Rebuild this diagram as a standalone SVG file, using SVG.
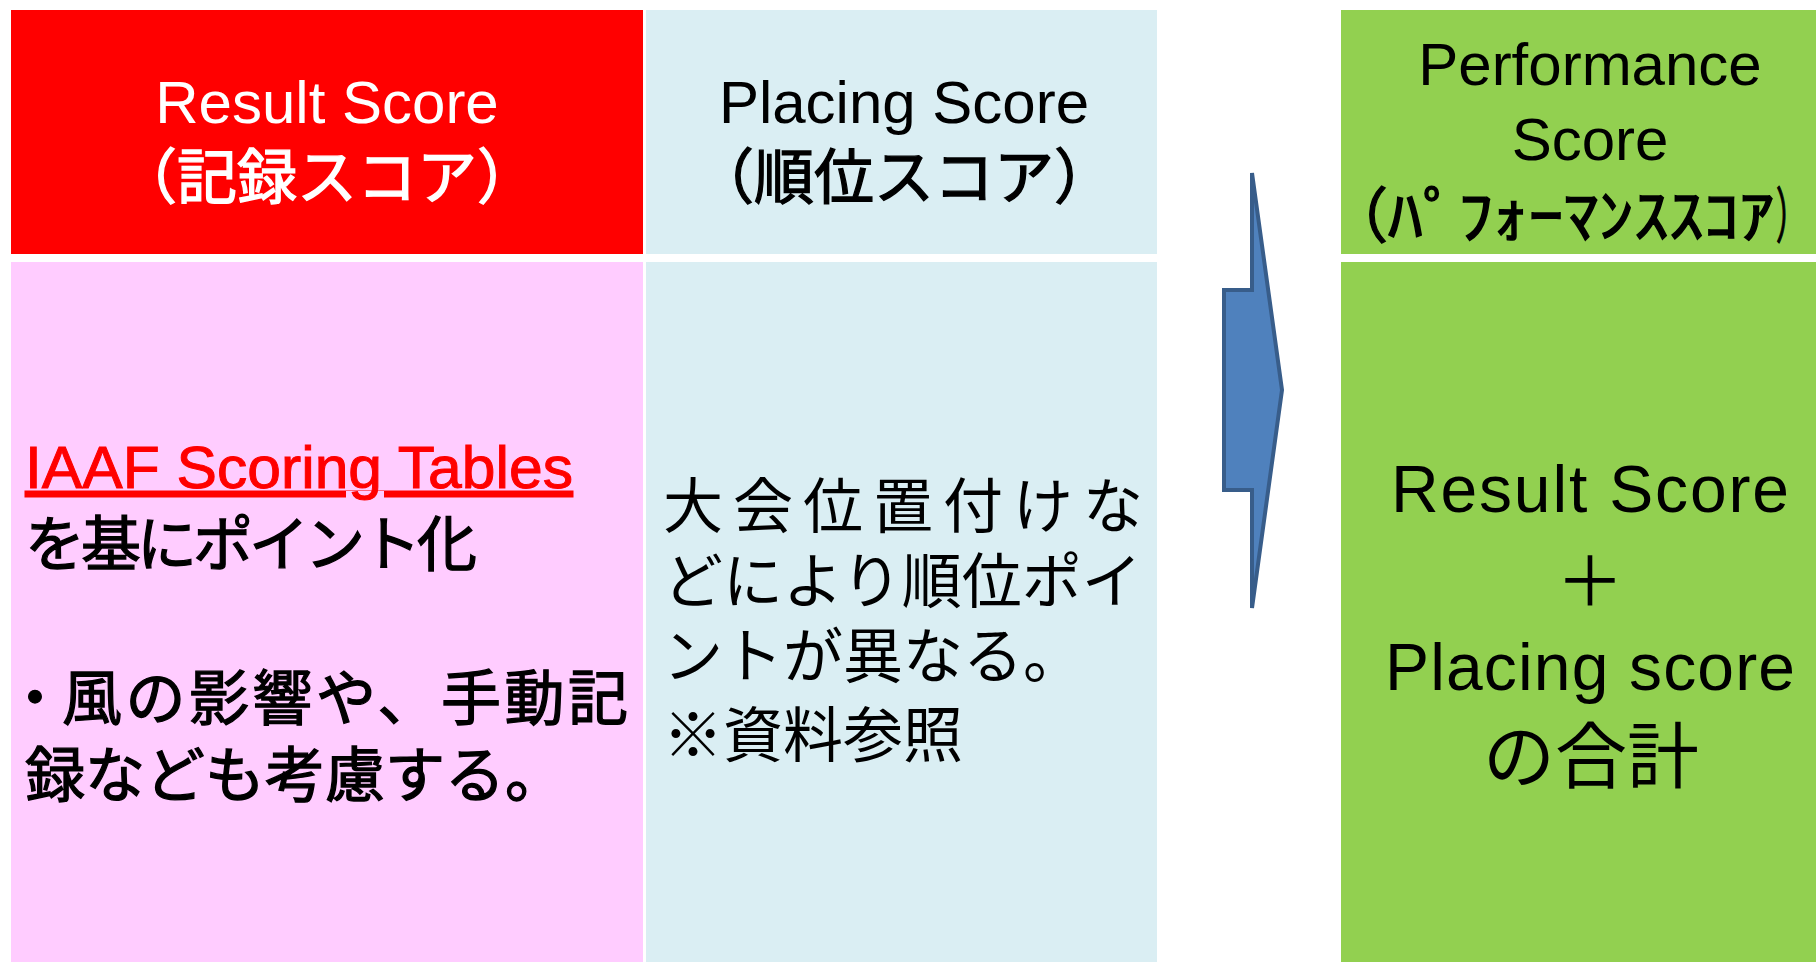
<svg xmlns="http://www.w3.org/2000/svg" width="1816" height="962" viewBox="0 0 1816 962">
<style>
text{font-family:"Liberation Sans","Noto Sans CJK JP",sans-serif;font-size:60px;fill:#000}
.w{fill:#fff}
.mid{text-anchor:middle}
.red{fill:#ff0000}
.hv{stroke:#000;stroke-width:1.3}
.hvw{stroke:#fff;stroke-width:1.3}
.hvr{stroke:#ff0000;stroke-width:1}
.arrow{fill:#4f81bd;stroke:#385d8a;stroke-width:4;stroke-linejoin:miter}
</style>
<rect width="1816" height="962" fill="#fff"/>
<g id="result-header">
<rect x="11" y="10" width="632" height="244" fill="#ff0000"/>
<text class="w mid" x="327" y="123">Result Score</text>
<text class="w mid hvw" x="327" y="199">（記録スコア）</text>
</g>
<g id="placing-header">
<rect x="646" y="10" width="511" height="244" fill="#daeef3"/>
<text class="mid" x="904" y="123">Placing Score</text>
<text class="mid hv" x="904" y="199">（順位スコア）</text>
</g>
<g id="result-body">
<rect x="11" y="262" width="632" height="700" fill="#ffccff"/>
<text class="red hvr" x="25" y="488" textLength="548" lengthAdjust="spacingAndGlyphs" text-decoration="underline">IAAF Scoring Tables</text>
<text class="hv" x="25" y="566" textLength="452">を基にポイント化</text>
<text class="hv" y="720"><tspan x="5">・</tspan><tspan x="62" textLength="566">風の影響や、手動記</tspan></text>
<text class="hv" x="25" y="797">録なども考慮する。</text>
</g>
<g id="placing-body">
<rect x="646" y="262" width="511" height="700" fill="#daeef3"/>
<text x="663" y="528" textLength="480">大会位置付けな</text>
<text x="663" y="603">どにより順位ポイ</text>
<text x="663" y="678">ントが異なる。</text>
<text x="663" y="757">※資料参照</text>
</g>
<g id="connectors">
<path class="arrow" d="M1224,290 L1252,290 L1252,173 L1282,390 L1252,608 L1252,490 L1224,490 Z"/>
</g>
<g id="performance-header">
<rect x="1341" y="10" width="475" height="244" fill="#92d050"/>
<text class="mid" x="1590" y="85">Performance</text>
<text class="mid" x="1590" y="160">Score</text>
<text class="hv" y="238"><tspan x="1328">（</tspan><tspan x="1388" textLength="386" lengthAdjust="spacingAndGlyphs">ﾊﾟﾌｫｰﾏﾝｽｽｺｱ</tspan><tspan x="1776" textLength="30" lengthAdjust="spacingAndGlyphs">）</tspan></text>
</g>
<g id="performance-body">
<rect x="1341" y="262" width="475" height="700" fill="#92d050"/>
<text class="mid" x="1590" y="512" style="font-size:66px" textLength="398">Result Score</text>
<text class="mid" x="1590" y="606" style="font-size:68px">＋</text>
<text class="mid" x="1590" y="690" style="font-size:66px" textLength="410">Placing score</text>
<text class="mid" x="1591" y="782" style="font-size:72px">の合計</text>
</g>
</svg>
